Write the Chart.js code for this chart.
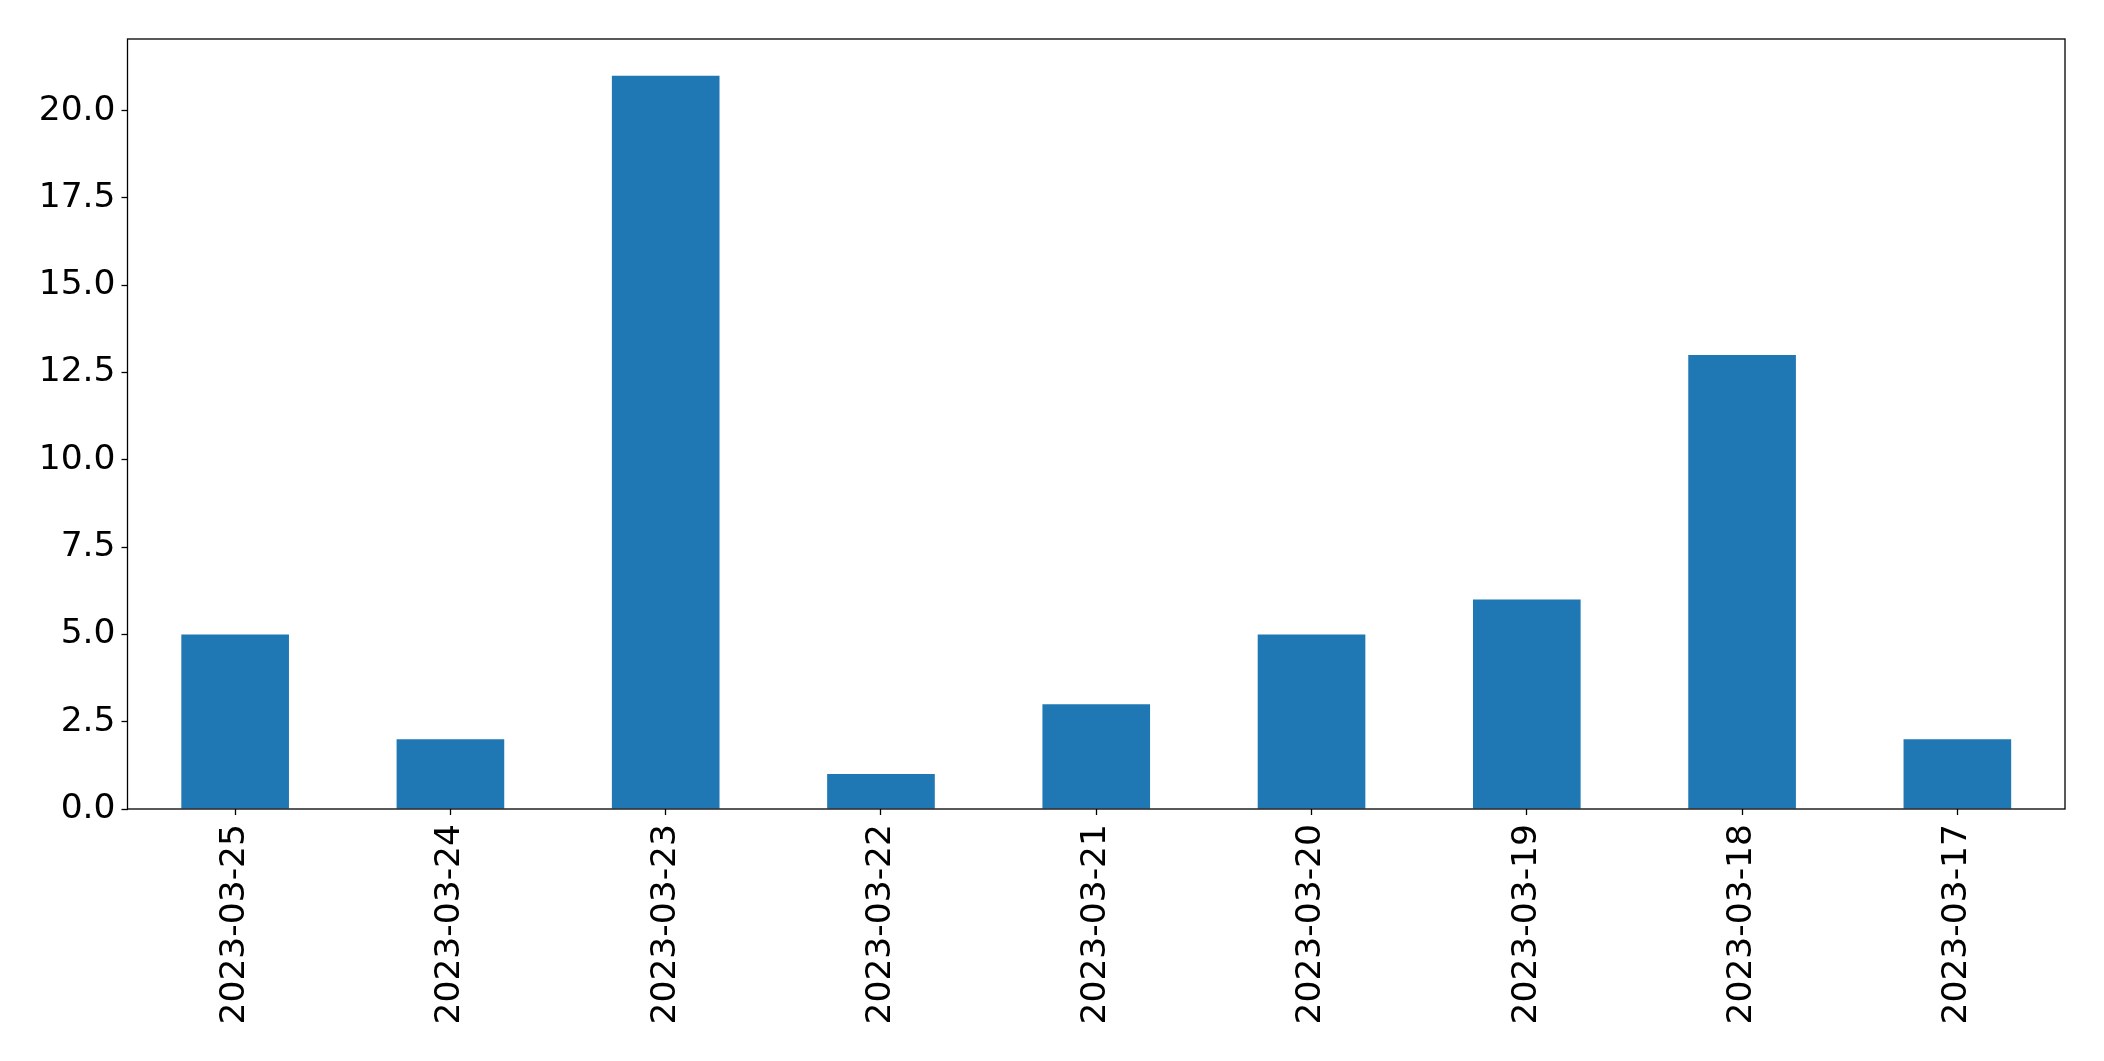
<!DOCTYPE html>
<html>
<head>
<meta charset="utf-8">
<script src="https://cdn.jsdelivr.net/npm/chart.js@4"></script>
<style>
  html, body { margin: 0; padding: 0; background: #fff; }
  #wrap { width: 2104px; height: 1061px; position: relative; }
</style>
</head>
<body>
<div id="wrap"><canvas id="chart"></canvas></div>
<script>
const dates = ["2023-03-25", "2023-03-24", "2023-03-23", "2023-03-22", "2023-03-21",
  "2023-03-20", "2023-03-19", "2023-03-18", "2023-03-17"];
const counts = [5, 2, 21, 1, 3, 5, 6, 13, 2];
const yMax = 22.05;
const yStep = 2.5;

// draws the box round the plot, like matplotlib's spines
const frame = {
  id: "frame",
  afterDraw(chart) {
    const { ctx, chartArea: a } = chart;
    ctx.save();
    ctx.strokeStyle = "#000";
    ctx.lineWidth = 1.3;
    ctx.strokeRect(a.left, a.top, a.right - a.left, a.bottom - a.top);
    ctx.restore();
  }
};

const font = { family: "'DejaVu Sans'", size: 34.5 };

new Chart(document.getElementById("chart"), {
  type: "bar",
  data: {
    labels: dates,
    datasets: [{
      data: counts,
      backgroundColor: "#1f77b4",
      barPercentage: 0.5,
      categoryPercentage: 1.0,
    }]
  },
  options: {
    responsive: true,
    maintainAspectRatio: false,
    animation: false,
    layout: { padding: { top: 39, right: 39, left: 0, bottom: 0 } },
    plugins: { legend: { display: false }, tooltip: { enabled: false } },
    scales: {
      x: {
        offset: true,
        grid: { display: true, drawOnChartArea: false, offset: false, tickLength: 6, tickColor: "#000", tickWidth: 1.3 },
        border: { display: false },
        ticks: { color: "#000", font, minRotation: 90, maxRotation: 90, padding: 9, autoSkip: false },
        afterFit(scale) { scale.height = 252; }
      },
      y: {
        min: 0,
        max: yMax,
        grid: { display: true, drawOnChartArea: false, tickLength: 6, tickColor: "#000", tickWidth: 1.3 },
        border: { display: false },
        ticks: {
          color: "#000", font, stepSize: yStep, includeBounds: false, padding: 6,
          callback: v => v.toFixed(1)
        },
        afterFit(scale) { scale.width = 127.5; }
      }
    }
  },
  plugins: [frame]
});
</script>
</body>
</html>
